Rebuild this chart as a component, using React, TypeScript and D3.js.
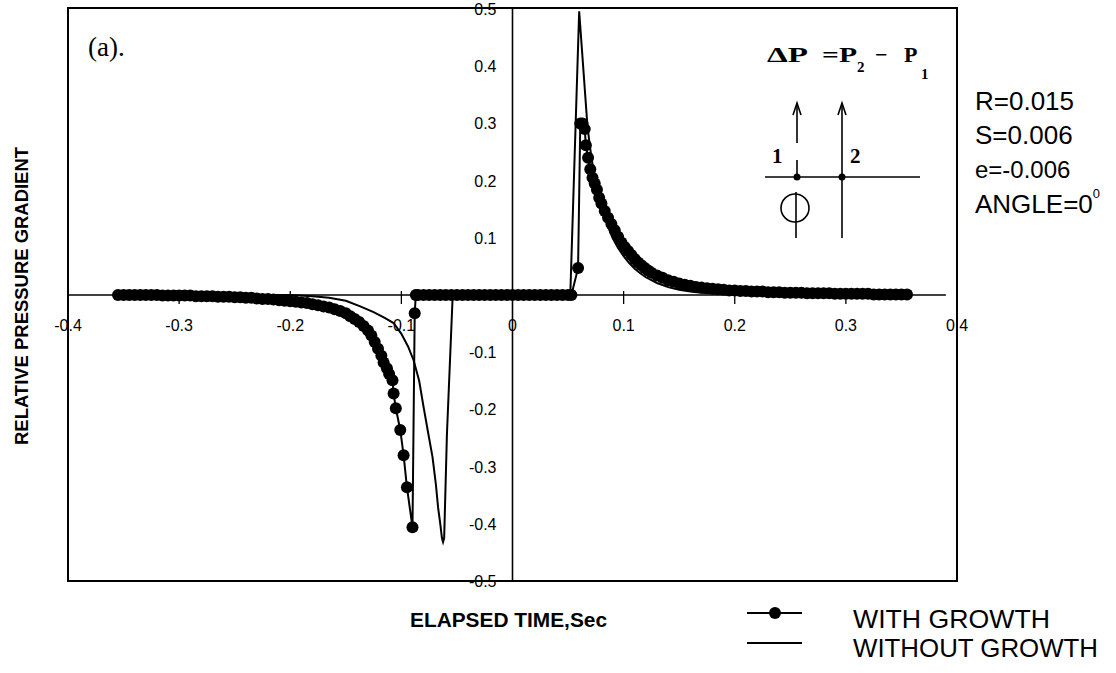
import React from 'react';
import * as d3 from 'd3';

// Axis ticks
const xTicks = [-0.4, -0.3, -0.2, -0.1, 0, 0.1, 0.2, 0.3, 0.4];
const xTickLabels = ['-0.4', '-0.3', '-0.2', '-0.1', '0', '0.1', '0.2', '0.3', '0.4'];
const yTicks = [0.5, 0.4, 0.3, 0.2, 0.1, -0.1, -0.2, -0.3, -0.4, -0.5];
const yTickLabels = ['0.5', '0.4', '0.3', '0.2', '0.1', '-0.1', '-0.2', '-0.3', '-0.4', '-0.5'];
const seriesNames = ['WITH GROWTH', 'WITHOUT GROWTH'];
const paramLabels = ['R=0.015', 'S=0.006', 'e=-0.006'];

// [elapsed time (s), relative pressure gradient]
const withGrowth: [number, number][] = [
  [-0.355, 0], [-0.35, 0], [-0.345, 0], [-0.34, 0], [-0.335, 0], [-0.33, 0], [-0.325, 0], [-0.32, 0],
  [-0.315, -0.001], [-0.31, -0.001], [-0.305, -0.001], [-0.3, -0.001], [-0.295, -0.001], [-0.29, -0.001],
  [-0.285, -0.002], [-0.28, -0.002], [-0.275, -0.002], [-0.27, -0.002],
  [-0.265, -0.003], [-0.26, -0.003], [-0.255, -0.003], [-0.25, -0.004], [-0.245, -0.004],
  [-0.24, -0.005], [-0.235, -0.005], [-0.23, -0.006], [-0.225, -0.007], [-0.22, -0.007],
  [-0.215, -0.008], [-0.21, -0.009], [-0.205, -0.01], [-0.2, -0.011], [-0.195, -0.012],
  [-0.19, -0.013], [-0.185, -0.014], [-0.18, -0.016], [-0.175, -0.018], [-0.17, -0.02],
  [-0.165, -0.022], [-0.16, -0.025], [-0.155, -0.028], [-0.15, -0.032], [-0.146, -0.037],
  [-0.142, -0.042], [-0.138, -0.047], [-0.134, -0.054], [-0.13, -0.062], [-0.127, -0.071],
  [-0.124, -0.082], [-0.121, -0.094], [-0.118, -0.106], [-0.116, -0.118], [-0.113, -0.128],
  [-0.111, -0.138], [-0.108, -0.149], [-0.107, -0.172], [-0.105, -0.198], [-0.101, -0.236],
  [-0.098, -0.28], [-0.095, -0.336], [-0.09, -0.406], [-0.088, -0.032], [-0.087, 0],
  [-0.085, 0], [-0.08, 0], [-0.075, 0], [-0.07, 0], [-0.065, 0], [-0.06, 0], [-0.055, 0],
  [-0.05, 0], [-0.045, 0], [-0.04, 0], [-0.035, 0], [-0.03, 0], [-0.025, 0], [-0.02, 0],
  [-0.015, 0], [-0.01, 0], [-0.005, 0], [0, 0], [0.005, 0], [0.01, 0], [0.015, 0], [0.02, 0],
  [0.025, 0], [0.03, 0], [0.035, 0], [0.04, 0], [0.045, 0], [0.05, 0], [0.053, 0],
  [0.059, 0.047], [0.061, 0.3], [0.063, 0.3], [0.065, 0.29], [0.066, 0.262], [0.068, 0.24],
  [0.07, 0.22], [0.072, 0.205], [0.074, 0.195], [0.076, 0.184], [0.078, 0.17], [0.08, 0.16],
  [0.083, 0.147], [0.086, 0.135], [0.089, 0.124], [0.092, 0.113], [0.095, 0.102], [0.098, 0.092],
  [0.101, 0.084], [0.104, 0.077], [0.107, 0.07], [0.11, 0.063], [0.113, 0.057], [0.116, 0.052],
  [0.119, 0.047], [0.122, 0.043], [0.125, 0.039], [0.13, 0.034], [0.135, 0.03], [0.14, 0.026],
  [0.145, 0.023], [0.15, 0.02], [0.155, 0.018], [0.16, 0.016], [0.165, 0.014], [0.17, 0.013],
  [0.175, 0.012], [0.18, 0.011], [0.185, 0.01], [0.19, 0.009], [0.195, 0.008], [0.2, 0.008],
  [0.205, 0.007], [0.21, 0.007], [0.215, 0.006], [0.22, 0.006], [0.225, 0.006], [0.23, 0.005],
  [0.235, 0.005], [0.24, 0.005], [0.245, 0.004], [0.25, 0.004], [0.255, 0.004], [0.26, 0.004],
  [0.265, 0.003], [0.27, 0.003], [0.275, 0.003], [0.28, 0.003], [0.285, 0.003], [0.29, 0.002],
  [0.295, 0.002], [0.3, 0.002], [0.305, 0.002], [0.31, 0.002], [0.315, 0.002], [0.32, 0.002],
  [0.325, 0.001], [0.33, 0.001], [0.335, 0.001], [0.34, 0.001], [0.345, 0.001], [0.35, 0.001],
  [0.355, 0.001],
];

const withoutGrowth: [number, number][] = [
  [-0.355, 0], [-0.2, 0], [-0.18, -0.002], [-0.165, -0.005], [-0.15, -0.01], [-0.137, -0.02],
  [-0.125, -0.03], [-0.115, -0.04], [-0.107, -0.049], [-0.1, -0.068], [-0.094, -0.09],
  [-0.089, -0.114], [-0.084, -0.15], [-0.08, -0.196], [-0.076, -0.24], [-0.072, -0.283],
  [-0.069, -0.33], [-0.067, -0.371], [-0.065, -0.4], [-0.0635, -0.425], [-0.0625, -0.432],
  [-0.0615, -0.425], [-0.059, -0.243], [-0.054, -0.009], [-0.053, 0], [0.052, 0],
  [0.06, 0.496], [0.0675, 0.294], [0.07, 0.255], [0.073, 0.215], [0.076, 0.185], [0.08, 0.155],
  [0.085, 0.125], [0.09, 0.1], [0.095, 0.082], [0.1, 0.068], [0.105, 0.056], [0.11, 0.046],
  [0.115, 0.038], [0.12, 0.031], [0.13, 0.021], [0.14, 0.014], [0.15, 0.009], [0.16, 0.006],
  [0.17, 0.004], [0.185, 0.002], [0.2, 0.001], [0.22, 0], [0.355, 0],
];

const SANS = 'Liberation Sans, Arial, Helvetica, sans-serif';
const SERIF = 'Liberation Serif, Times New Roman, serif';

export default function App() {
  const x = d3.scaleLinear().domain([-0.4, 0.4]).range([68, 957]);
  const y = d3.scaleLinear().domain([-0.5, 0.5]).range([581, 9]);
  const line = d3.line<[number, number]>().x((d) => x(d[0])).y((d) => y(d[1]));
  const x0 = x(0);
  const y0 = y(0);

  return (
    <svg
      width={1116}
      height={673}
      style={{ position: 'absolute', left: 0, top: 0, background: '#fff' }}
    >
      <rect x={0} y={0} width={1116} height={673} fill="#fff" />
      {/* frame */}
      <rect x={x(-0.4)} y={y(0.5) - 1} width={x(0.4) - x(-0.4)} height={y(-0.5) - y(0.5) + 1}
        fill="none" stroke="#000" strokeWidth={2} />
      {/* axes */}
      <line x1={x(-0.4)} x2={x(0.39)} y1={y0} y2={y0} stroke="#000" strokeWidth={1.6} />
      <line x1={x0} x2={x0} y1={y(0.5)} y2={y(-0.5)} stroke="#000" strokeWidth={1.6} />
      {xTicks.filter((t) => t !== 0 && Math.abs(t) < 0.35).map((t) => (
        <line key={t} x1={x(t)} x2={x(t)} y1={y0 - 4} y2={y0 + 9} stroke="#000" strokeWidth={1.3} />
      ))}
      {xTicks.map((t, i) => (
        <text key={'xl' + t} x={x(t)} y={y0 + 36} fontFamily={SANS} fontSize={16}
          textAnchor="middle" fill="#000">{xTickLabels[i]}</text>
      ))}
      {yTicks.map((t, i) => (
        <text key={'yl' + t} x={x0 - 16} y={y(t) + 6} fontFamily={SANS} fontSize={16}
          textAnchor="end" fill="#000">{yTickLabels[i]}</text>
      ))}

      {/* without growth */}
      <path d={line(withoutGrowth) || ''} fill="none" stroke="#000" strokeWidth={2} />
      {/* with growth */}
      <path d={line(withGrowth) || ''} fill="none" stroke="#000" strokeWidth={2} />
      {withGrowth.map((d, i) => (
        <circle key={i} cx={x(d[0])} cy={y(d[1])} r={6} fill="#000" />
      ))}

      {/* panel label */}
      <text x={88} y={56} fontFamily={SERIF} fontSize={27} fill="#000">(a).</text>

      {/* inset formula */}
      <g fontFamily={SERIF} fontWeight="bold" fill="#000">
        <text x={767} y={62} fontSize={22} textLength={41} lengthAdjust="spacingAndGlyphs">ΔP</text>
        <text x={822} y={62} fontSize={22} textLength={35} lengthAdjust="spacingAndGlyphs">=P</text>
        <text x={857} y={72} fontSize={15}>2</text>
        <text x={875} y={62} fontSize={22}>−</text>
        <text x={904} y={62} fontSize={22}>P</text>
        <text x={921} y={79} fontSize={15}>1</text>
        <text x={772} y={163} fontSize={21}>1</text>
        <text x={850} y={163} fontSize={21}>2</text>
      </g>
      {/* inset diagram */}
      <g stroke="#000" strokeWidth={1.6} fill="none">
        <line x1={765} x2={920} y1={177} y2={177} />
        <line x1={797} x2={797} y1={103} y2={143} />
        <polyline points="793,115 797,103 801,115" />
        <line x1={797} x2={797} y1={160} y2={177} />
        <line x1={796} x2={796} y1={192} y2={238} />
        <circle cx={795} cy={208} r={14} />
        <line x1={842} x2={842} y1={103} y2={238} />
        <polyline points="838,115 842,103 846,115" />
      </g>
      <circle cx={797} cy={177} r={3.5} fill="#000" />
      <circle cx={842} cy={177} r={3.5} fill="#000" />

      {/* parameters */}
      <g fontFamily={SANS} fill="#000">
        {paramLabels.map((p, i) => (
          <text key={p} x={975} y={110 + i * 34} fontSize={i === 2 ? 24 : 26}>{p}</text>
        ))}
        <text x={975} y={213} fontSize={26}>
          ANGLE=0<tspan dy={-15} fontSize={13}>0</tspan>
        </text>
      </g>

      {/* axis titles */}
      <text x={410} y={627} fontFamily={SANS} fontWeight="bold" fontSize={20}
        textLength={197} lengthAdjust="spacingAndGlyphs" fill="#000">ELAPSED TIME,Sec</text>
      <text transform="translate(28,296) rotate(-90)" fontFamily={SANS} fontWeight="bold"
        fontSize={18} textAnchor="middle" textLength={298} lengthAdjust="spacingAndGlyphs"
        fill="#000">RELATIVE PRESSURE GRADIENT</text>

      {/* legend */}
      <line x1={747} x2={802} y1={613} y2={613} stroke="#000" strokeWidth={2} />
      <circle cx={775} cy={613} r={6} fill="#000" />
      <line x1={747} x2={802} y1={643} y2={643} stroke="#000" strokeWidth={2} />
      <text x={853} y={628} fontFamily={SANS} fontSize={25} textLength={197}
        lengthAdjust="spacingAndGlyphs" fill="#000">{seriesNames[0]}</text>
      <text x={853} y={657} fontFamily={SANS} fontSize={25} textLength={245}
        lengthAdjust="spacingAndGlyphs" fill="#000">{seriesNames[1]}</text>
    </svg>
  );
}
